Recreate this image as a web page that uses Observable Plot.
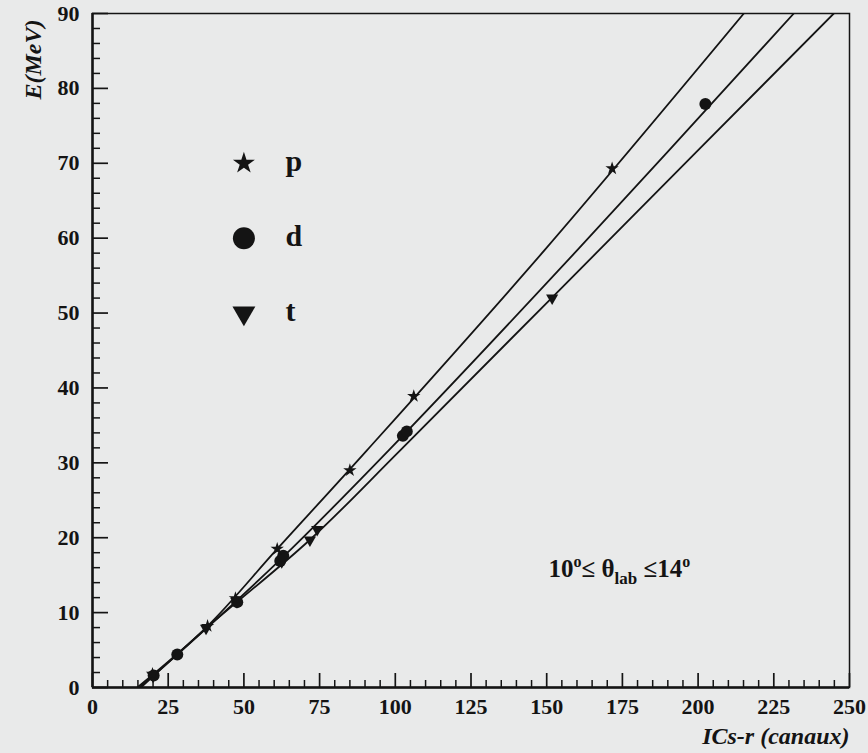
<!DOCTYPE html>
<html>
<head>
<meta charset="utf-8">
<script src="https://cdn.jsdelivr.net/npm/d3@7"></script>
<script src="https://cdn.jsdelivr.net/npm/@observablehq/plot@0.6"></script>
<style>
  html, body { margin: 0; padding: 0; background: #e9eaea; }
  #chart { width: 868px; height: 753px; }
</style>
</head>
<body>
<div id="chart"></div>
<script>
// ---- tick labels ----
const xTicks = [0, 25, 50, 75, 100, 125, 150, 175, 200, 225, 250];
const xMinor = [5, 10, 15, 20, 30, 35, 40, 45, 55, 60, 65, 70, 80, 85, 90, 95, 105, 110, 115, 120, 130, 135, 140, 145, 155, 160, 165, 170, 180, 185, 190, 195, 205, 210, 215, 220, 230, 235, 240, 245];
const yTicks = [0, 10, 20, 30, 40, 50, 60, 70, 80, 90];
const yMinor = [2, 4, 6, 8, 12, 14, 16, 18, 22, 24, 26, 28, 32, 34, 36, 38, 42, 44, 46, 48, 52, 54, 56, 58, 62, 64, 66, 68, 72, 74, 76, 78, 82, 84, 86, 88];

// ---- measured points (ICs-r channel, E in MeV) ----
const pX = [19.8, 38.0, 47.2, 61.0, 85.0, 106.1, 171.6];
const pY = [1.8, 8.2, 11.9, 18.5, 29.0, 38.9, 69.3];
const dX = [20.2, 28.0, 47.8, 62.0, 63.0, 102.5, 103.8, 202.4];
const dY = [1.6, 4.4, 11.4, 16.9, 17.6, 33.6, 34.2, 77.9];
const tX = [20.0, 37.5, 47.5, 62.5, 71.8, 74.2, 151.8];
const tY = [1.5, 7.9, 11.5, 16.8, 19.7, 21.1, 52.0];

// ---- calibration curves (read along the drawn fits) ----
const pFitX = [14.8, 38.0, 61.0, 90.7, 149.3, 215.1];
const pFitY = [0, 8.2, 18.5, 31.7, 58.4, 90];
const dFitX = [15.5, 28.0, 62.1, 97.9, 160.1, 231.6];
const dFitY = [0, 4.4, 17.1, 31.7, 58.4, 90];
const tFitX = [16.0, 37.5, 72.0, 101.7, 167.3, 244.8];
const tFitY = [0, 7.9, 19.8, 31.7, 58.4, 90];

// ---- legend ----
const legendLabels = ["p", "d", "t"];
const legendE = [70, 60, 50];

const annotationText = "10o≤ θlab ≤14o";
const xLabel = "ICs-r (canaux)";
const yLabel = "E(MeV)";

const toRows = (xs, ys) => xs.map((x, i) => ({x, y: ys[i]}));

const triDown = {
  draw(context, size) {
    const y = -Math.sqrt(size / (Math.sqrt(3) * 3));
    context.moveTo(0, -2 * y);
    context.lineTo(Math.sqrt(3) * y, y);
    context.lineTo(-Math.sqrt(3) * y, y);
    context.closePath();
  }
};
const symbols = ["star", "circle", triDown];
const legendR = [6.9, 11, 8.5];

const ink = "#141414";
const serif = "'Liberation Serif', 'Times New Roman', serif";
const W = 868, H = 753, mL = 92, mR = 19, mT = 13, mB = 66;
const fw = W - mL - mR, fh = H - mT - mB;

const legendRows = legendLabels.map((lab, i) => ({lab, y: legendE[i], sym: symbols[i], r: legendR[i]}));

const plot = Plot.plot({
  width: W, height: H,
  marginLeft: mL, marginRight: mR, marginTop: mT, marginBottom: mB,
  x: {domain: [0, 250]},
  y: {domain: [0, 90]},
  style: {background: "transparent", fontFamily: serif, color: ink, overflow: "visible"},
  marks: [
    Plot.frame({stroke: ink, strokeWidth: 1.5}),
    // fits
    Plot.line(toRows(pFitX, pFitY), {x: "x", y: "y", curve: "catmull-rom", stroke: ink, strokeWidth: 1.8, clip: true}),
    Plot.line(toRows(dFitX, dFitY), {x: "x", y: "y", curve: "catmull-rom", stroke: ink, strokeWidth: 1.8, clip: true}),
    Plot.line(toRows(tFitX, tFitY), {x: "x", y: "y", curve: "catmull-rom", stroke: ink, strokeWidth: 1.8, clip: true}),
    // inward ticks
    Plot.tickX(xMinor, {x: d => d, insetTop: fh - 7, stroke: ink, strokeWidth: 1.5}),
    Plot.tickX(xTicks, {x: d => d, insetTop: fh - 14, stroke: ink, strokeWidth: 1.7}),
    Plot.tickY(yMinor, {y: d => d, insetRight: fw - 8, stroke: ink, strokeWidth: 1.5}),
    Plot.tickY(yTicks, {y: d => d, insetRight: fw - 16, stroke: ink, strokeWidth: 1.7}),
    Plot.ruleY([0], {stroke: ink, strokeWidth: 2.5}),
    Plot.ruleX([0], {stroke: ink, strokeWidth: 2.5}),
    Plot.axisX({ticks: xTicks, tickSize: 0, tickPadding: 11, label: null, fontSize: 22, fontWeight: "bold", fill: ink}),
    Plot.axisY({ticks: yTicks, tickSize: 0, tickPadding: 13, label: null, fontSize: 22, fontWeight: "bold", fill: ink}),
    // data points
    Plot.dot(toRows(tX, tY), {x: "x", y: "y", symbol: triDown, r: 4.5, fill: ink, stroke: "none"}),
    Plot.dot(toRows(dX, dY), {x: "x", y: "y", symbol: "circle", r: 6, fill: ink, stroke: "none"}),
    Plot.dot(toRows(pX, pY), {x: "x", y: "y", symbol: "star", r: 4.2, fill: ink, stroke: "none"}),
    // legend
    ...legendRows.map(row => Plot.dot([row], {x: () => 50, y: "y", symbol: row.sym, r: row.r, fill: ink, stroke: "none"})),
    Plot.text(legendRows, {x: () => 63.7, y: "y", text: "lab", textAnchor: "start", fontSize: 30, fontWeight: "bold", fill: ink, dy: -2}),
    // annotation
    Plot.text([annotationText], {x: () => 150.6, y: () => 15.8, text: d => d, textAnchor: "start", fontSize: 25, fontWeight: "bold", fill: ink}),
    // axis titles
    Plot.text([xLabel], {frameAnchor: "bottom-right", text: d => d, textAnchor: "end", lineAnchor: "bottom", dy: 56, dx: 0, fontSize: 24, fontWeight: "bold", fontStyle: "italic", fill: ink}),
    Plot.text([yLabel], {frameAnchor: "top-left", text: d => d, rotate: -90, textAnchor: "middle", dx: -69, dy: 46, fontSize: 24, fontWeight: "bold", fontStyle: "italic", fill: ink})
  ]
});

document.getElementById("chart").appendChild(plot);

// rich text for the angular-range annotation (superscript degrees, subscript "lab")
d3.select(plot).selectAll("text").filter(function () { return this.textContent === annotationText; }).each(function () {
  const t = d3.select(this);
  t.text(null);
  const parts = [
    {s: "10", dy: 0},
    {s: "o", dy: -10, size: 16},
    {s: "≤ θ", dy: 10},
    {s: "lab", dy: 7, size: 17},
    {s: " ≤14", dy: -7},
    {s: "o", dy: -10, size: 16}
  ];
  for (const p of parts) {
    const ts = t.append("tspan").attr("dy", p.dy).text(p.s);
    if (p.size) ts.attr("font-size", p.size);
  }
});
</script>
</body>
</html>
